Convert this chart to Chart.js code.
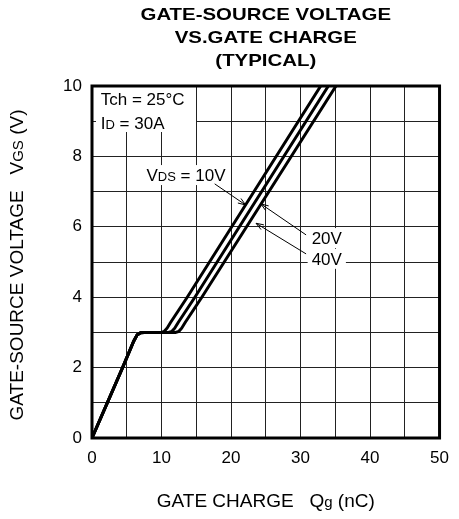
<!DOCTYPE html>
<html>
<head>
<meta charset="utf-8">
<script src="https://cdn.jsdelivr.net/npm/chart.js@4.4.1/dist/chart.umd.min.js"></script>
<style>
  html, body { margin: 0; padding: 0; background: #fff; }
  #wrap { width: 459px; height: 519px; position: relative; }
</style>
</head>
<body>
<div id="wrap"><canvas id="chart" width="459" height="519"></canvas></div>
<script>
// shared rise up to the Miller plateau (nC, V)
const rampQ = [0, 2.2, 4.4, 6.0, 6.5, 7.0, 7.5];
const rampV = [0, 1, 2, 2.75, 2.93, 2.99, 3.0];

// plateau end and second slope, per VDS
const tailV = [3.0, 3.03, 3.12, 3.28, 4, 10];
const tailQ10 = [10.0, 10.4, 10.8, 11.3, 13.7, 32.9];
const tailQ20 = [11.0, 11.5, 11.9, 12.4, 14.8, 34.0];
const tailQ40 = [12.0, 12.5, 12.9, 13.4, 15.8, 35.1];

const seriesNames = ["VDS = 10V", "20V", "40V"];

const xTicks = [0, 10, 20, 30, 40, 50];
const yTicks = [0, 2, 4, 6, 8, 10];

const titleLines = ["GATE-SOURCE VOLTAGE", "VS.GATE CHARGE", "(TYPICAL)"];

const FONT = '"Liberation Sans", Arial, Helvetica, sans-serif';

function toPoints(qs, vs) {
  return qs.map((q, i) => ({ x: q, y: vs[i] }));
}

function curve(tailQ) {
  return toPoints(rampQ.concat(tailQ), rampV.concat(tailV));
}

const datasets = [tailQ10, tailQ20, tailQ40].map((tq, i) => ({
  label: seriesNames[i],
  data: curve(tq),
  borderColor: "#000",
  borderWidth: 3,
  pointRadius: 0,
  tension: 0,
  fill: false,
}));

// draw text made of runs of different sizes (for subscripts)
function runsWidth(ctx, runs) {
  let w = 0;
  runs.forEach((r) => {
    ctx.font = `${r.size}px ${FONT}`;
    w += ctx.measureText(r.t).width;
  });
  return w;
}

function drawRuns(ctx, runs, x, y) {
  ctx.textBaseline = "alphabetic";
  ctx.textAlign = "left";
  runs.forEach((r) => {
    ctx.font = `${r.size}px ${FONT}`;
    ctx.fillText(r.t, x, y + (r.dy || 0));
    x += ctx.measureText(r.t).width;
  });
}

const notes = [
  { x: 1.26, y: 9.62, runs: [{ t: "Tch = 25°C", size: 17 }] },
  { x: 1.26, y: 8.96, runs: [{ t: "I", size: 17 }, { t: "D", size: 13 }, { t: " = 30A", size: 17 }] },
  { x: 7.84, y: 7.47, runs: [{ t: "V", size: 17 }, { t: "DS", size: 13 }, { t: " = 10V", size: 17 }] },
  { x: 31.6, y: 5.68, runs: [{ t: "20V", size: 17 }] },
  { x: 31.6, y: 5.09, runs: [{ t: "40V", size: 17 }] },
];

const leaders = [
  { from: [17.65, 7.22], to: [22.1, 6.62] },
  { from: [30.8, 5.77], to: [24.3, 6.65] },
  { from: [30.8, 5.23], to: [23.6, 6.1] },
];

const decor = {
  id: "decor",
  beforeDatasetsDraw(chart) {
    const { ctx, scales } = chart;
    const xs = scales.x, ys = scales.y;
    ctx.save();
    // white boxes behind notes
    ctx.fillStyle = "#fff";
    ctx.fillRect(xs.getPixelForValue(0) + 4, ys.getPixelForValue(10), 100, 46);
    notes.slice(2).forEach((n) => {
      const w = runsWidth(ctx, n.runs);
      const px = xs.getPixelForValue(n.x), py = ys.getPixelForValue(n.y);
      ctx.fillRect(px - 4, py - 10, w + 8, 20);
    });
    // leader lines with arrowheads
    ctx.strokeStyle = "#000";
    ctx.lineWidth = 1;
    leaders.forEach((l) => {
      const x1 = xs.getPixelForValue(l.from[0]), y1 = ys.getPixelForValue(l.from[1]);
      const x2 = xs.getPixelForValue(l.to[0]), y2 = ys.getPixelForValue(l.to[1]);
      ctx.beginPath();
      ctx.moveTo(x1, y1);
      ctx.lineTo(x2, y2);
      const a = Math.atan2(y1 - y2, x1 - x2);
      const len = 8, spread = 0.35;
      ctx.moveTo(x2 + len * Math.cos(a + spread), y2 + len * Math.sin(a + spread));
      ctx.lineTo(x2, y2);
      ctx.lineTo(x2 + len * Math.cos(a - spread), y2 + len * Math.sin(a - spread));
      ctx.stroke();
    });
    ctx.restore();
  },
  afterDraw(chart) {
    const { ctx, scales, chartArea } = chart;
    const xs = scales.x, ys = scales.y;
    ctx.save();
    // frame
    ctx.strokeStyle = "#000";
    ctx.lineWidth = 3;
    ctx.strokeRect(chartArea.left, chartArea.top, chartArea.right - chartArea.left, chartArea.bottom - chartArea.top);
    ctx.fillStyle = "#000";
    // notes
    notes.forEach((n) => {
      drawRuns(ctx, n.runs, xs.getPixelForValue(n.x), ys.getPixelForValue(n.y) + 6);
    });
    // title
    const cx = (chartArea.left + chartArea.right) / 2;
    ctx.font = `bold 17px ${FONT}`;
    ctx.textAlign = "center";
    ctx.textBaseline = "middle";
    titleLines.forEach((line, i) => {
      ctx.save();
      ctx.translate(cx, 15 + i * 23);
      ctx.scale(1.2, 1);
      ctx.fillText(line, 0, 0);
      ctx.restore();
    });
    // x axis title
    const xRuns = [{ t: "GATE CHARGE   Q", size: 19 }, { t: "g", size: 15 }, { t: " (nC)", size: 19 }];
    const xw = runsWidth(ctx, xRuns);
    drawRuns(ctx, xRuns, cx - xw / 2, 507);
    // y axis title
    const yRuns = [{ t: "GATE-SOURCE VOLTAGE   V", size: 19 }, { t: "GS", size: 15 }, { t: " (V)", size: 19 }];
    const yw = runsWidth(ctx, yRuns);
    ctx.translate(23, 265);
    ctx.rotate(-Math.PI / 2);
    drawRuns(ctx, yRuns, -yw / 2, 0);
    ctx.restore();
  },
};

new Chart(document.getElementById("chart"), {
  type: "line",
  data: { datasets },
  plugins: [decor],
  options: {
    responsive: false,
    animation: false,
    layout: { padding: { top: 86, right: 10, left: 0, bottom: 0 } },
    plugins: { legend: { display: false }, tooltip: { enabled: false }, title: { display: false } },
    scales: {
      x: {
        type: "linear",
        min: 0,
        max: 50,
        afterFit: (s) => { s.height = 81; },
        afterBuildTicks: (s) => { s.ticks = Array.from({ length: 11 }, (_, i) => ({ value: i * 5 })); },
        grid: { color: "#222", lineWidth: 1, drawTicks: false },
        border: { display: false },
        ticks: {
          padding: 10,
          color: "#000",
          font: { family: FONT, size: 17 },
          maxRotation: 0,
          autoSkip: false,
          callback: (v) => (xTicks.includes(v) ? String(v) : ""),
        },
      },
      y: {
        type: "linear",
        min: 0,
        max: 10,
        afterFit: (s) => { s.width = 92; },
        afterBuildTicks: (s) => { s.ticks = Array.from({ length: 11 }, (_, i) => ({ value: i })); },
        grid: { color: "#222", lineWidth: 1, drawTicks: false },
        border: { display: false },
        ticks: {
          padding: 10,
          color: "#000",
          font: { family: FONT, size: 17 },
          autoSkip: false,
          callback: (v) => (yTicks.includes(v) ? String(v) : ""),
        },
      },
    },
  },
});
</script>
</body>
</html>
